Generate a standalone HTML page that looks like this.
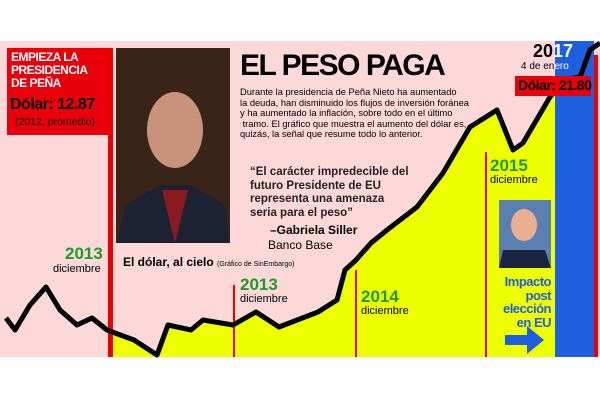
<!DOCTYPE html>
<html><head><meta charset="utf-8"><style>
body{margin:0;width:600px;height:400px;background:#fff;overflow:hidden;position:relative;font-family:"Liberation Sans",sans-serif}
.a{position:absolute;white-space:nowrap}
</style></head><body>
<svg width="600" height="400" style="position:absolute;left:0;top:0">
<rect x="0" y="41" width="600" height="316" fill="#fdd8d8"/>
<path d="M110,357 L110,332 L115,333 L134,340 L157,355 L168,325 L191,330 L203,320 L233,325 L256,312 L279,327 L318,312 L337,300 L345,270 L356,260 L371,243 L387,230 L417,207 L443,173 L470,127 L497,110 L513,150 L523,143 L550,97 L555,90 L555,357 Z" fill="#eeff00"/>
<rect x="555" y="41" width="39" height="316" fill="#1e5fe0"/>
<rect x="594" y="55" width="4" height="302" fill="#e00"/>
<rect x="108" y="48" width="5" height="309" fill="#e00"/>
<rect x="233" y="285" width="2" height="72" fill="#e00"/>
<rect x="355" y="270" width="2" height="87" fill="#e00"/>
<rect x="485" y="152" width="2" height="205" fill="#e00"/>
<path d="M6,318 L15,330 L30,305 L46,287 L60,310 L77,325 L92,318 L107,330 L115,333 L134,340 L157,355 L168,325 L191,330 L203,320 L233,325 L256,312 L279,327 L318,312 L337,300 L345,270 L356,260 L371,243 L387,230 L417,207 L443,173 L470,127 L497,110 L513,150 L523,143 L550,97 L563,80 L580,77 L590,50 L600,43" fill="none" stroke="#000" stroke-width="5" stroke-linejoin="round"/>
<rect x="7" y="48" width="101" height="87" fill="#e8000a"/>
<rect x="116" y="48" width="114" height="195" fill="#3a2418"/>
<ellipse cx="175" cy="130" rx="28" ry="38" fill="#c9927a"/>
<path d="M116,243 L125,205 L160,185 L190,185 L225,205 L230,243 Z" fill="#1d2233"/>
<path d="M162,190 L175,243 L188,190 Z" fill="#8a1a22"/>
<rect x="499" y="200" width="52" height="68" fill="#5a7fb0"/>
<ellipse cx="524" cy="225" rx="13" ry="16" fill="#e8b090"/>
<path d="M499,268 L503,250 L545,250 L551,268Z" fill="#1a2540"/>
<rect x="505" y="335" width="26" height="10" fill="#1e5fe0"/>
<path d="M527,326 L544,340 L527,354Z" fill="#1e5fe0"/>
<rect x="515" y="76" width="76" height="20" fill="#e8000a"/>
</svg>
<div class="a" style="left:11px;top:51px;color:#fff;font-weight:bold;font-size:12px;line-height:13px;letter-spacing:-0.5px">EMPIEZA LA<br>PRESIDENCIA<br>DE PEÑA</div>
<div class="a" style="left:10px;top:96px;font-weight:bold;font-size:16px;letter-spacing:-0.5px">Dólar: 12.87</div>
<div class="a" style="left:15px;top:116px;font-size:10.5px;color:#111">(2012, promedio)</div>
<div class="a" style="left:240px;top:49px;font-weight:bold;font-size:30px;letter-spacing:-1.5px">EL PESO PAGA</div>
<div class="a" style="left:240px;top:87px;font-size:9.3px;line-height:10.5px">Durante la presidencia de Peña Nieto ha aumentado<br>la deuda, han disminuido los flujos de inversión foránea<br>y ha aumentado la inflación, sobre todo en el último<br>&nbsp;tramo. El gráfico que muestra el aumento del dólar es,<br>quizás, la señal que resume todo lo anterior.</div>
<div class="a" style="left:250px;top:166px;font-size:11.5px;line-height:13.5px;font-weight:bold;color:#222">“El carácter impredecible del<br>futuro Presidente de EU<br>representa una amenaza<br>seria para el peso”</div>
<div class="a" style="left:270px;top:223px;font-size:12px;font-weight:bold">–Gabriela Siller</div>
<div class="a" style="left:268px;top:238px;font-size:12px">Banco Base</div>
<div class="a" style="left:123px;top:255px;font-size:12px;font-weight:bold">El dólar, al cielo <span style="font-size:7px;font-weight:normal">(Gráfico de SinEmbargo)</span></div>
<div class="a" style="left:65px;top:244px;color:#1d9a2a;font-weight:bold;font-size:17px">2013</div>
<div class="a" style="left:53px;top:263px;font-size:11px">diciembre</div>
<div class="a" style="left:240px;top:275px;color:#1d9a2a;font-weight:bold;font-size:17px">2013</div>
<div class="a" style="left:240px;top:293px;font-size:11px">diciembre</div>
<div class="a" style="left:361px;top:287px;color:#1d9a2a;font-weight:bold;font-size:17px">2014</div>
<div class="a" style="left:361px;top:305px;font-size:11px">diciembre</div>
<div class="a" style="left:490px;top:156px;color:#1d9a2a;font-weight:bold;font-size:17px">2015</div>
<div class="a" style="left:490px;top:174px;font-size:11px">diciembre</div>
<div class="a" style="left:533px;top:41px;font-weight:bold;font-size:18px">20<span style="color:#fff">17</span></div>
<div class="a" style="left:521px;top:61px;font-size:10px">4 de en<span style="color:#fff">ero</span></div>
<div class="a" style="left:518px;top:77px;font-weight:bold;font-size:14px;letter-spacing:-0.5px">Dólar: 21.80</div>
<div class="a" style="left:491px;top:275px;color:#1e5fe0;font-weight:bold;font-size:13px;line-height:13.5px;text-align:right;width:60px;letter-spacing:-0.5px">Impacto<br>post<br>elección<br>en EU</div>
</body></html>
